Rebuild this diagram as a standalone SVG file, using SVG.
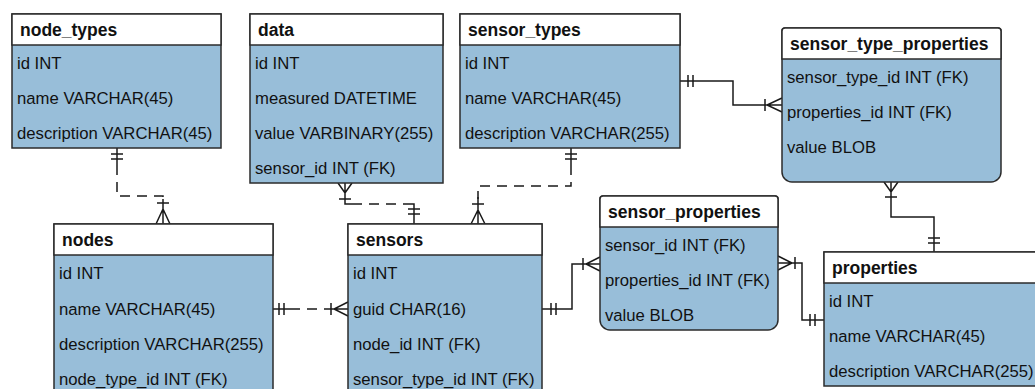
<svg xmlns="http://www.w3.org/2000/svg" width="1035" height="389" viewBox="0 0 1035 389">
  <style>
    .body { fill: #98bed9; stroke: #2b2b2b; stroke-width: 1.5; }
    .head { fill: #ffffff; stroke: #2b2b2b; stroke-width: 1.5; }
    .title { font-family: "Liberation Sans", Arial, sans-serif; font-weight: bold; font-size: 17.5px; fill: #111; }
    .col { font-family: "Liberation Sans", Arial, sans-serif; font-size: 16.7px; fill: #111; }
    .ln { fill: none; stroke: #1a1a1a; stroke-width: 1.5; }
    .dash { stroke-dasharray: 10 7; }
  </style>
  <rect width="1035" height="389" fill="#ffffff"/>

  <!-- relationship lines -->
  <g id="connectors">
    <!-- node_types 1 : n nodes (non-identifying) -->
    <path class="ln" d="M117,148 V165"/>
    <path class="ln" d="M111,154 H123 M111,159 H123"/>
    <path class="ln dash" d="M117,165 V196 H163 V201"/>
    <path class="ln" d="M163,199 V224 M157,203 H169 M156,224 L163,209 L170,224"/>

    <!-- sensors 1 : n data (non-identifying) -->
    <path class="ln" d="M345,183 V204 H352 M338,183 L345,193 L352,183 M339,199 H351"/>
    <path class="ln dash" d="M352,204 H406"/>
    <path class="ln" d="M406,204 H414 V224 M408,209 H420 M408,214 H420"/>

    <!-- sensor_types 1 : n sensors (non-identifying) -->
    <path class="ln" d="M571,148 V165 M565,154 H577 M565,159 H577"/>
    <path class="ln dash" d="M571,165 V186 H478 V199"/>
    <path class="ln" d="M478,197 V224 M472,204 H484 M471,224 L478,210 L485,224"/>

    <!-- sensor_types 1 : n sensor_type_properties -->
    <path class="ln" d="M680,81 H733 V105 H782 M688,75 V87 M693,75 V87 M765,99 V111 M782,98 L767,105 L782,112"/>

    <!-- properties 1 : n sensor_type_properties -->
    <path class="ln" d="M891,182 V217 H934 V252 M884,182 L891,192 L898,182 M885,197 H897 M928,238 H940 M928,243 H940"/>

    <!-- nodes 1 : n sensors (non-identifying) -->
    <path class="ln" d="M273,309 H290 M279,303 V315 M284,303 V315"/>
    <path class="ln dash" d="M290,309 H326"/>
    <path class="ln" d="M326,309 H348 M331,303 V315 M348,302 L334,309 L348,316"/>

    <!-- sensors 1 : n sensor_properties -->
    <path class="ln" d="M542,309 H572 V264 H600 M551,303 V315 M556,303 V315 M583,258 V270 M600,257 L586,264 L600,271"/>

    <!-- properties 1 : n sensor_properties -->
    <path class="ln" d="M778,263 H802 V320 H824 M778,256 L792,263 L778,270 M795,257 V269 M810,314 V326 M815,314 V326"/>
  </g>

  <g id="node_types">
    <rect class="body" x="12" y="14" width="209" height="134"/>
    <rect class="head" x="12" y="14" width="209" height="31"/>
    <text class="title" x="20" y="36">node_types</text>
    <text class="col" x="17" y="69">id INT</text>
    <text class="col" x="17" y="104">name VARCHAR(45)</text>
    <text class="col" x="17" y="139">description VARCHAR(45)</text>
  </g>

  <g id="data">
    <rect class="body" x="250" y="14" width="193" height="169"/>
    <rect class="head" x="250" y="14" width="193" height="31"/>
    <text class="title" x="258" y="36">data</text>
    <text class="col" x="255" y="69">id INT</text>
    <text class="col" x="255" y="104">measured DATETIME</text>
    <text class="col" x="255" y="139">value VARBINARY(255)</text>
    <text class="col" x="255" y="174">sensor_id INT (FK)</text>
  </g>

  <g id="sensor_types">
    <rect class="body" x="460" y="14" width="220" height="134"/>
    <rect class="head" x="460" y="14" width="220" height="31"/>
    <text class="title" x="468" y="36">sensor_types</text>
    <text class="col" x="465" y="69">id INT</text>
    <text class="col" x="465" y="104">name VARCHAR(45)</text>
    <text class="col" x="465" y="139">description VARCHAR(255)</text>
  </g>

  <g id="sensor_type_properties">
    <path class="body" d="M785,28 H998 A3,3 0 0 1 1001,31 V172 A10,10 0 0 1 991,182 H792 A10,10 0 0 1 782,172 V31 A3,3 0 0 1 785,28 Z"/>
    <path class="head" d="M785,28 H998 A3,3 0 0 1 1001,31 V59 H782 V31 A3,3 0 0 1 785,28 Z"/>
    <text class="title" x="790" y="50">sensor_type_properties</text>
    <text class="col" x="787" y="83">sensor_type_id INT (FK)</text>
    <text class="col" x="787" y="118">properties_id INT (FK)</text>
    <text class="col" x="787" y="153">value BLOB</text>
  </g>

  <g id="nodes">
    <rect class="body" x="54" y="224" width="219" height="180"/>
    <rect class="head" x="54" y="224" width="219" height="31"/>
    <text class="title" x="62" y="246">nodes</text>
    <text class="col" x="59" y="279">id INT</text>
    <text class="col" x="59" y="315">name VARCHAR(45)</text>
    <text class="col" x="59" y="350">description VARCHAR(255)</text>
    <text class="col" x="59" y="385">node_type_id INT (FK)</text>
  </g>

  <g id="sensors">
    <rect class="body" x="348" y="224" width="194" height="180"/>
    <rect class="head" x="348" y="224" width="194" height="31"/>
    <text class="title" x="356" y="246">sensors</text>
    <text class="col" x="353" y="279">id INT</text>
    <text class="col" x="353" y="315">guid CHAR(16)</text>
    <text class="col" x="353" y="350">node_id INT (FK)</text>
    <text class="col" x="353" y="385">sensor_type_id INT (FK)</text>
  </g>

  <g id="sensor_properties">
    <path class="body" d="M603,196 H775 A3,3 0 0 1 778,199 V320 A10,10 0 0 1 768,330 H610 A10,10 0 0 1 600,320 V199 A3,3 0 0 1 603,196 Z"/>
    <path class="head" d="M603,196 H775 A3,3 0 0 1 778,199 V227 H600 V199 A3,3 0 0 1 603,196 Z"/>
    <text class="title" x="608" y="218">sensor_properties</text>
    <text class="col" x="605" y="251">sensor_id INT (FK)</text>
    <text class="col" x="605" y="286">properties_id INT (FK)</text>
    <text class="col" x="605" y="321">value BLOB</text>
  </g>

  <g id="properties">
    <rect class="body" x="824" y="252" width="230" height="134"/>
    <rect class="head" x="824" y="252" width="230" height="31"/>
    <text class="title" x="832" y="274">properties</text>
    <text class="col" x="829" y="307">id INT</text>
    <text class="col" x="829" y="342">name VARCHAR(45)</text>
    <text class="col" x="829" y="377">description VARCHAR(255)</text>
  </g>
</svg>
